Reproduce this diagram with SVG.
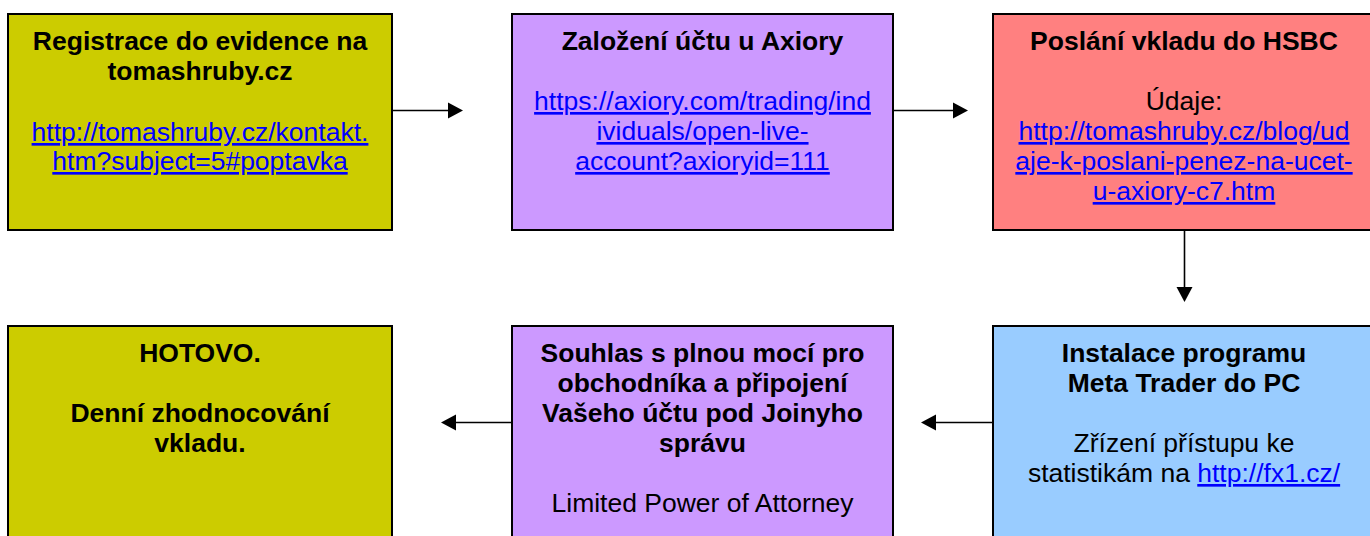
<svg xmlns="http://www.w3.org/2000/svg" width="1370" height="536" viewBox="0 0 1370 536">
<style>
.box{stroke:#000;stroke-width:2}
.y{fill:#CCCC00}.p{fill:#CC99FF}.r{fill:#FF8080}.b{fill:#99CCFF}
text{font-family:"Liberation Sans",Arial,sans-serif;font-size:26.5px;text-anchor:middle;fill:#000}
.t{font-weight:bold}
.l{fill:#0000FF;text-decoration:underline}
.c{stroke:#000;stroke-width:1.6;fill:none}
.h{fill:#000}
</style>
<rect width="1370" height="536" fill="#fff"/>
<g id="node1">
<rect class="box y" x="8" y="14" width="384" height="216"/>
<text class="t" x="200" y="50">Registrace do evidence na</text>
<text class="t" x="200" y="80">tomashruby.cz</text>
<text class="l" x="200" y="141">http://tomashruby.cz/kontakt.</text>
<text class="l" x="200" y="170">htm?subject=5#poptavka</text>
</g>
<g id="node2">
<rect class="box p" x="512" y="14" width="381" height="216"/>
<text class="t" x="702.5" y="50">Založení účtu u Axiory</text>
<text class="l" x="702.5" y="110">https://axiory.com/trading/ind</text>
<text class="l" x="702.5" y="140">ividuals/open-live-</text>
<text class="l" x="702.5" y="170">account?axioryid=111</text>
</g>
<g id="node3">
<rect class="box r" x="993" y="14" width="384" height="216"/>
<text class="t" x="1184" y="50">Poslání vkladu do HSBC</text>
<text x="1184" y="110">Údaje:</text>
<text class="l" x="1184" y="140">http://tomashruby.cz/blog/ud</text>
<text class="l" x="1184" y="170">aje-k-poslani-penez-na-ucet-</text>
<text class="l" x="1184" y="200">u-axiory-c7.htm</text>
</g>
<g id="node4">
<rect class="box y" x="8" y="326" width="384" height="230"/>
<text class="t" x="200" y="362">HOTOVO.</text>
<text class="t" x="200" y="422">Denní zhodnocování</text>
<text class="t" x="200" y="452">vkladu.</text>
</g>
<g id="node5">
<rect class="box p" x="512" y="326" width="381" height="230"/>
<text class="t" x="702.5" y="362">Souhlas s plnou mocí pro</text>
<text class="t" x="702.5" y="392">obchodníka a připojení</text>
<text class="t" x="702.5" y="422">Vašeho účtu pod Joinyho</text>
<text class="t" x="702.5" y="452">správu</text>
<text x="702.5" y="512">Limited Power of Attorney</text>
</g>
<g id="node6">
<rect class="box b" x="993" y="326" width="384" height="230"/>
<text class="t" x="1184" y="362">Instalace programu</text>
<text class="t" x="1184" y="392">Meta Trader do PC</text>
<text x="1184" y="452">Zřízení přístupu ke</text>
<text x="1184" y="482">statistikám na <tspan class="l">http://fx1.cz/</tspan></text>
</g>
<g id="connectors">
<line class="c" x1="392" y1="110.5" x2="450" y2="110.5"/>
<polygon class="h" points="448,102.5 463,110.5 448,118.5"/>
<line class="c" x1="893" y1="110.5" x2="955" y2="110.5"/>
<polygon class="h" points="953,102.5 968,110.5 953,118.5"/>
<line class="c" x1="1184.5" y1="230" x2="1184.5" y2="289"/>
<polygon class="h" points="1176.5,287 1192.5,287 1184.5,302"/>
<line class="c" x1="993" y1="422.5" x2="934" y2="422.5"/>
<polygon class="h" points="936,414.5 921,422.5 936,430.5"/>
<line class="c" x1="512" y1="422.5" x2="454" y2="422.5"/>
<polygon class="h" points="456,414.5 441,422.5 456,430.5"/>
</g>
</svg>
